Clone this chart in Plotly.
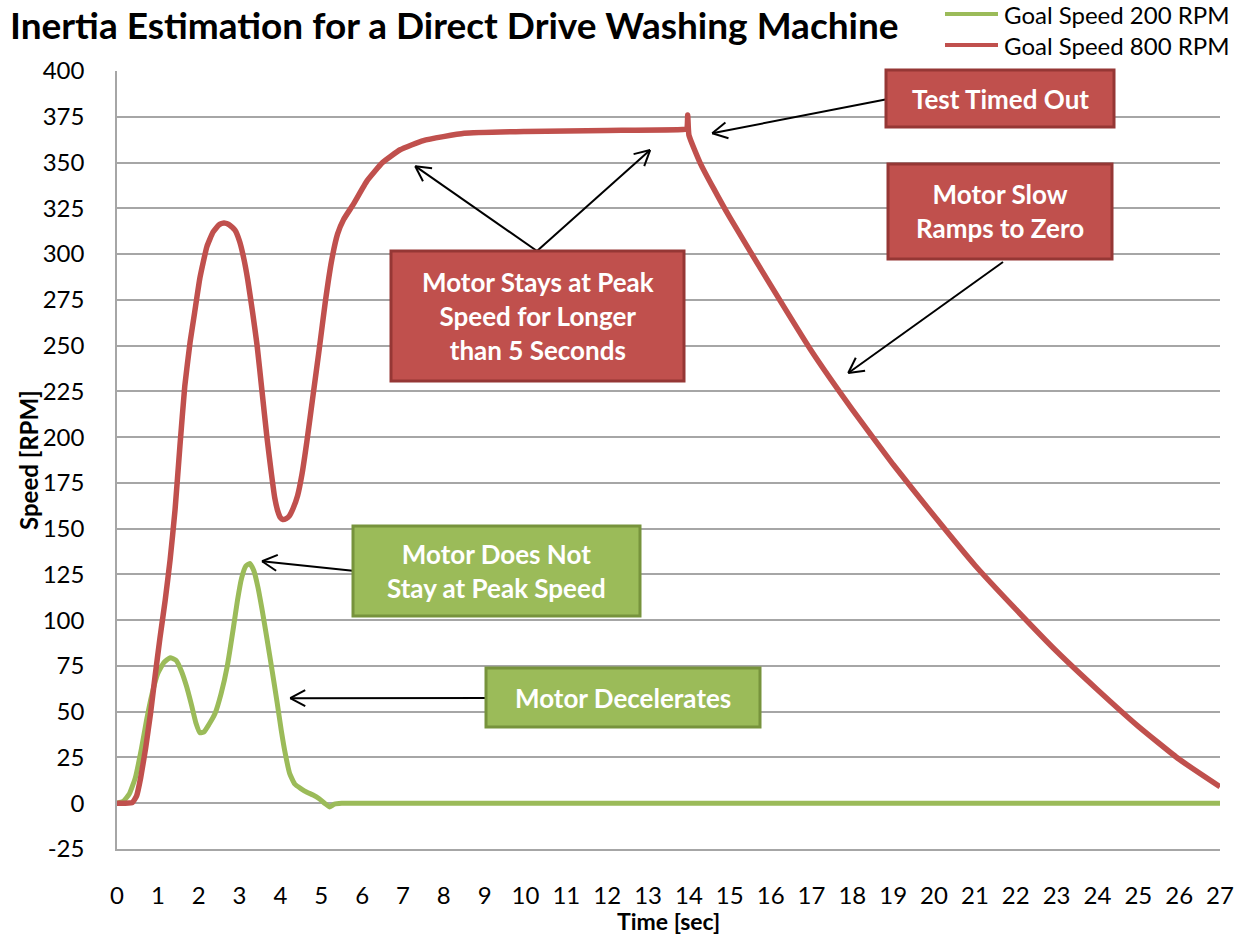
import math
import plotly.graph_objects as go

# ---- measured speed traces -------------------------------------------------
time_200 = [0.0, 0.15, 0.3, 0.45, 0.6, 0.72, 0.85, 1.0, 1.15, 1.3, 1.45, 1.58,
            1.7, 1.82, 1.93, 2.03, 2.13, 2.25, 2.4, 2.55, 2.7, 2.85, 2.95,
            3.05, 3.15, 3.25, 3.35, 3.45, 3.55, 3.67, 3.8, 3.92, 4.02, 4.12,
            4.23, 4.35, 4.5, 4.65, 4.8, 4.95, 5.08, 5.2, 5.32, 5.5, 6.0, 8.0,
            10.0, 12.0, 14.0, 16.0, 18.0, 20.0, 22.0, 24.0, 26.0, 27.0]
speed_200 = [0, 1, 5, 14, 30, 45, 59, 71, 77, 79.5, 78, 72,
             64, 54, 44, 38.5, 39, 43, 49, 60, 75, 96, 111,
             123, 129.5, 131, 127, 118, 106, 90, 72, 55, 40, 27,
             16, 10.5, 8, 6, 4.5, 2.5, 0, -2, -0.5, 0, 0, 0,
             0, 0, 0, 0, 0, 0, 0, 0, 0, 0]

time_800 = [0.0, 0.2, 0.38, 0.48, 0.58, 0.7, 0.82, 0.93, 1.05, 1.18, 1.3, 1.42,
            1.54, 1.66, 1.79, 1.9, 2.03, 2.2, 2.35, 2.5, 2.62, 2.75, 2.89,
            3.0, 3.1, 3.2, 3.32, 3.43, 3.55, 3.67, 3.78, 3.86, 3.93, 4.0,
            4.06, 4.14, 4.22, 4.31, 4.42, 4.53, 4.65, 4.8, 4.95, 5.1, 5.25,
            5.4, 5.55, 5.78, 6.12, 6.5, 6.93, 7.5, 8.5, 10.0, 12.0, 13.85,
            13.95, 13.97, 14.0, 14.27, 14.6, 15.0, 16.0, 17.0, 18.0, 19.0,
            20.0, 21.0, 22.0, 23.0, 24.0, 25.0, 26.0, 27.0]
speed_800 = [0, 0, 0.5, 4, 14, 30, 49, 69, 90, 111, 133, 160,
             195, 228, 252, 268, 287, 304, 312, 316, 317, 316, 313,
             307, 298, 286, 268, 250, 225, 200, 180, 167, 160, 156,
             155, 155.5, 157, 161, 168, 180, 198, 223, 248, 274, 296,
             311, 319, 327, 340, 350, 357, 362, 366, 367, 367.5, 368,
             368.5, 376, 365, 350, 336, 320, 283, 247, 215, 185,
             157, 130, 106, 83, 62, 42, 24, 9]

series_names = ["Goal Speed 200 RPM", "Goal Speed 800 RPM"]
x_ticks = list(range(0, 28))
y_ticks = list(range(-25, 401, 25))

# ---- colours / geometry ------------------------------------------------------
GREEN, GREEN_EDGE = "#9BBB59", "#77933C"
RED, RED_EDGE = "#C0504D", "#953735"
GRID = "#A6A6A6"
FONT = "Lato"

W, H = 1238, 938
L, R, T, B = 117, 1220, 71, 849
X_RANGE = [0, 27]
Y_RANGE = [-25, 400]


def to_px(x, y):
    """data -> pixel position on the page"""
    px = L + (x - X_RANGE[0]) / (X_RANGE[1] - X_RANGE[0]) * (R - L)
    py = B - (y - Y_RANGE[0]) / (Y_RANGE[1] - Y_RANGE[0]) * (B - T)
    return px, py


def paper(px, py):
    return (px - L) / (R - L), (B - py) / (B - T)


fig = go.Figure()
fig.add_trace(go.Scatter(x=time_200, y=speed_200, mode="lines", name=series_names[0],
                         line=dict(color=GREEN, width=5, shape="spline", smoothing=0.4),
                         showlegend=False))
fig.add_trace(go.Scatter(x=time_800, y=speed_800, mode="lines", name=series_names[1],
                         line=dict(color=RED, width=5.5, shape="spline", smoothing=0.4),
                         showlegend=False))

shapes = []
annotations = []

# ---- legend (top right) ------------------------------------------------------
for name, color, ly in [(series_names[0], GREEN, 14), (series_names[1], RED, 45)]:
    x0, y0 = paper(945, ly)
    x1, _ = paper(998, ly)
    shapes.append(dict(type="line", xref="paper", yref="paper", x0=x0, y0=y0, x1=x1, y1=y0,
                       line=dict(color=color, width=4), layer="above"))
    tx, ty = paper(1002, ly)
    annotations.append(dict(xref="paper", yref="paper", x=tx, y=ty, xanchor="left",
                            yanchor="middle", showarrow=False, text=name,
                            font=dict(family=FONT, size=24, color="black")))


# ---- callout boxes -----------------------------------------------------------
def box(x0, y0, x1, y1, text, fill, edge):
    a0, b0 = paper(x0, y1)
    a1, b1 = paper(x1, y0)
    shapes.append(dict(type="rect", xref="paper", yref="paper", x0=a0, y0=b0, x1=a1, y1=b1,
                       fillcolor=fill, line=dict(color=edge, width=3), layer="above"))
    cx, cy = paper((x0 + x1) / 2, (y0 + y1) / 2)
    annotations.append(dict(xref="paper", yref="paper", x=cx, y=cy, xanchor="center",
                            yanchor="middle", showarrow=False, text=text, align="center",
                            font=dict(family=FONT, size=26, color="white", weight="bold")))


def arrow(tail_px, head_data, size=17, spread=28):
    hx, hy = to_px(*head_data)
    tx, ty = tail_px
    d = math.hypot(tx - hx, ty - hy)
    ux, uy = (tx - hx) / d, (ty - hy) / d
    pts = []
    for s in (spread, -spread):
        a = math.radians(s)
        wx = ux * math.cos(a) - uy * math.sin(a)
        wy = ux * math.sin(a) + uy * math.cos(a)
        pts.append((hx + size * wx, hy + size * wy))
    segs = [((tx, ty), (hx, hy)), (pts[0], (hx, hy)), (pts[1], (hx, hy))]
    for (p0, p1) in segs:
        a0, b0 = paper(*p0)
        a1, b1 = paper(*p1)
        shapes.append(dict(type="line", xref="paper", yref="paper", x0=a0, y0=b0, x1=a1, y1=b1,
                           line=dict(color="black", width=2), layer="above"))


arrow((888, 99), (14.57, 366))
arrow((1003, 262), (17.9, 235))
arrow((537, 251), (7.3, 348))
arrow((537, 251), (13.05, 356.8))
arrow((355, 571), (3.55, 132.2))
arrow((488, 698), (4.24, 57.4))

box(886, 70, 1114, 127, "Test Timed Out", RED, RED_EDGE)
box(888, 164, 1112, 259, "Motor Slow<br>Ramps to Zero", RED, RED_EDGE)
box(391, 251, 684, 381, "Motor Stays at Peak<br>Speed for Longer<br>than 5 Seconds", RED, RED_EDGE)
box(353, 526, 640, 616, "Motor Does Not<br>Stay at Peak Speed", GREEN, GREEN_EDGE)
box(486, 668, 760, 727, "Motor Decelerates", GREEN, GREEN_EDGE)

# ---- axis titles ---------------------------------------------------------------
yx, yy = paper(28, (T + B) / 2)
annotations.append(dict(xref="paper", yref="paper", x=yx, y=yy, textangle=-90, showarrow=False,
                        xanchor="center", yanchor="middle", text="Speed [RPM]",
                        font=dict(family=FONT, size=24, color="black", weight="bold")))
xx, xy = paper((L + R) / 2, 921)
annotations.append(dict(xref="paper", yref="paper", x=xx, y=xy, showarrow=False,
                        xanchor="center", yanchor="middle", text="Time [sec]",
                        font=dict(family=FONT, size=23, color="black", weight="bold")))

fig.update_layout(
    width=W, height=H,
    margin=dict(l=L, r=W - R, t=T, b=H - B, pad=0, autoexpand=False),
    plot_bgcolor="white", paper_bgcolor="white",
    title=dict(text="Inertia Estimation for a Direct Drive Washing Machine",
               x=10 / W, xanchor="left", xref="container",
               y=1 - 26 / H, yanchor="middle", yref="container",
               font=dict(family=FONT, size=37, color="black", weight="bold")),
    shapes=shapes,
    annotations=annotations,
    showlegend=False,
)
fig.update_xaxes(range=X_RANGE, tickmode="array", tickvals=x_ticks, automargin=False,
                 ticktext=[str(v) for v in x_ticks], showgrid=False, zeroline=False,
                 showline=True, linecolor=GRID, linewidth=1.5, ticks="",
                 ticklabelstandoff=24,
                 tickfont=dict(family=FONT, size=24, color="black"))
fig.update_yaxes(range=Y_RANGE, tickmode="array", tickvals=y_ticks, automargin=False,
                 ticktext=[str(v) for v in y_ticks], showgrid=True, gridcolor=GRID,
                 gridwidth=1.5, zeroline=False, showline=True, linecolor=GRID,
                 linewidth=1.5, ticks="", ticklabelstandoff=26,
                 tickfont=dict(family=FONT, size=24, color="black"))

fig.write_html("out.html")
